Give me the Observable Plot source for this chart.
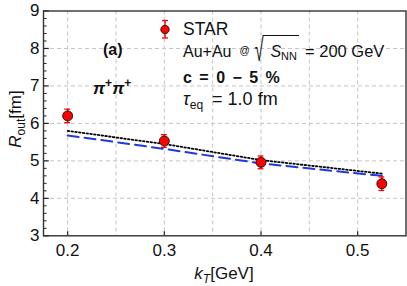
<!DOCTYPE html>
<html><head><meta charset="utf-8">
<script src="https://cdn.jsdelivr.net/npm/d3@7"></script>
<script src="https://cdn.jsdelivr.net/npm/@observablehq/plot@0.6"></script>
<style>body{margin:0;background:#fff} svg{display:block} text.rich{white-space:pre}</style>
</head><body><div id="chart"></div>
<script>
// ---- data ----
const kT = [0.2, 0.3, 0.4, 0.525];
const starR = [6.2, 5.53, 4.96, 4.39];
const starErr = [0.18, 0.17, 0.17, 0.18];
const dottedR = [5.80, 5.45, 5.02, 4.66];
const dashedR = [5.68, 5.32, 4.93, 4.60];
const xTicks = [0.2, 0.3, 0.4, 0.5];
const xGrid = [0.2, 0.25, 0.3, 0.35, 0.4, 0.45, 0.5];
const yTicks = [3, 4, 5, 6, 7, 8, 9];
const yGrid = [4, 5, 6, 7, 8];
const yMinor = [3.2,3.4,3.6,3.8,4.2,4.4,4.6,4.8,5.2,5.4,5.6,5.8,6.2,6.4,6.6,6.8,7.2,7.4,7.6,7.8,8.2,8.4,8.6,8.8];

const FONT = "'Liberation Sans', Arial, sans-serif";
const star = kT.map((k, i) => ({k, r: starR[i], lo: starR[i] - starErr[i], hi: starR[i] + starErr[i]}));
const dotted = kT.map((k, i) => ({k, r: dottedR[i]}));
const dashed = kT.map((k, i) => ({k, r: dashedR[i]}));
const X0 = 0.175, X1 = 0.55;

const plot = Plot.plot({
  width: 407, height: 286,
  marginLeft: 43, marginRight: 1.5, marginTop: 10.5, marginBottom: 50.7,
  style: {fontFamily: FONT, fontSize: "17px", color: "#111", background: "#fff"},
  x: {domain: [X0, X1]},
  y: {domain: [3, 9]},
  marks: [
    Plot.gridX(xGrid, {stroke: "#c4c4c4", strokeOpacity: 1, strokeDasharray: "4,3"}),
    Plot.gridY(yGrid, {stroke: "#c4c4c4", strokeOpacity: 1, strokeDasharray: "4,3"}),
    Plot.axisX(xTicks, {tickSize: 0, tickPadding: 8, tickFormat: d => d.toFixed(1), label: null}),
    Plot.axisY(yTicks, {tickSize: 0, tickPadding: 4, label: null}),
    Plot.ruleX(xTicks, {x: d => d, y1: 3, y2: 3.11, stroke: "#222", strokeWidth: 1.2}),
    Plot.ruleY(yTicks, {y: d => d, x1: X0, x2: X0 + 0.006, stroke: "#222", strokeWidth: 1.2}),
    Plot.ruleY(yMinor, {y: d => d, x1: X0, x2: X0 + 0.0037, stroke: "#222", strokeWidth: 1}),
    Plot.line(dashed, {x: "k", y: "r", stroke: "#2038e0", strokeWidth: 2, strokeDasharray: "11,6"}),
    Plot.line(dotted, {x: "k", y: "r", stroke: "#000", strokeWidth: 1.8, strokeDasharray: "1.6,2.2"}),
    Plot.ruleX(star, {x: "k", y1: "lo", y2: "hi", stroke: "#f00", strokeWidth: 1.5}),
    Plot.ruleY(star, {y: "lo", x1: d => d.k - 0.003, x2: d => d.k + 0.003, stroke: "#f00", strokeWidth: 1.3}),
    Plot.ruleY(star, {y: "hi", x1: d => d.k - 0.003, x2: d => d.k + 0.003, stroke: "#f00", strokeWidth: 1.3}),
    Plot.dot(star, {x: "k", y: "r", r: 5, fill: "#f00", stroke: "#111", strokeWidth: 0.9}),
    Plot.frame({stroke: "#333", strokeWidth: 1.4})
  ]
});
document.getElementById("chart").append(plot);

const svg = d3.select(plot);

// legend marker (error bar + dot)
const lg = svg.append("g");
lg.append("line").attr("x1", 165).attr("x2", 165).attr("y1", 20.5).attr("y2", 38).attr("stroke", "#f00").attr("stroke-width", 1.5);
lg.append("line").attr("x1", 162).attr("x2", 168).attr("y1", 20.5).attr("y2", 20.5).attr("stroke", "#f00").attr("stroke-width", 1.3);
lg.append("line").attr("x1", 162).attr("x2", 168).attr("y1", 38).attr("y2", 38).attr("stroke", "#f00").attr("stroke-width", 1.3);
lg.append("circle").attr("cx", 165).attr("cy", 29.5).attr("r", 4.2).attr("fill", "#f00").attr("stroke", "#111").attr("stroke-width", 0.9);

// rich text helper
function rich(x, y, segs, opts = {}) {
  const outer = svg.append("g").attr("transform", `translate(${x},${y})` + (opts.rotate ? " rotate(-90)" : ""));
  const g = outer.append("g");
  let cx = 0;
  const items = [];
  for (const s of segs) {
    cx += s.pre || 0;
    const t = g.append("text").attr("class", "rich")
      .attr("fill", "#111")
      .attr("text-anchor", "start")
      .style("font-family", s.family || FONT)
      .style("font-size", (s.size || 16) + "px")
      .style("font-style", s.italic ? "italic" : "normal")
      .style("font-weight", s.bold ? "bold" : "normal")
      .text(s.t);
    if (s.ws) t.style("word-spacing", s.ws + "px");
    if (s.sy) t.attr("transform", `translate(${cx},${s.ty || 0}) scale(1,${s.sy})`);
    else t.attr("x", cx).attr("y", s.dy || 0);
    const w = t.node().getComputedTextLength();
    items.push({x: cx, w});
    cx += w;
  }
  if (opts.anchor === "middle") g.attr("transform", `translate(${-cx / 2},0)`);
  return {items, width: cx};
}

// axis titles
rich(224, 279, [
  {t: "k", italic: true, size: 17},
  {t: "T", italic: true, size: 12, dy: 4},
  {t: "[GeV]", size: 17}
], {anchor: "middle"});
rich(21, 119, [
  {t: "R", italic: true, size: 17},
  {t: "out", size: 12, dy: 4},
  {t: "[fm]", size: 17}
], {rotate: true, anchor: "middle"});

// legend texts
rich(183, 35, [{t: "STAR", size: 17.5}]);
const l2 = rich(183, 56.7, [
  {t: "Au+Au", size: 16},
  {t: "@", size: 10, pre: 8, dy: -2.5},
  {t: "\u221A", size: 16, pre: 5, sy: 2.0, ty: 4},
  {t: "S", italic: true, size: 16, pre: 7},
  {t: "NN", size: 11, dy: 3},
  {t: "= 200 GeV", size: 16.5, pre: 8}
]);
// overline of the radical
{
  const r = l2.items[2], nn = l2.items[4];
  svg.append("line").attr("x1", 183 + r.x + r.w - 0.8).attr("x2", 183 + nn.x + nn.w + 2)
    .attr("y1", 35.5).attr("y2", 35.5).attr("stroke", "#111").attr("stroke-width", 1);
}
rich(183, 83, [{t: "c = 0 \u2212 5 %", size: 16, bold: true, ws: 3}]);
rich(183, 105, [
  {t: "\u03C4", italic: true, size: 18},
  {t: "eq", size: 12, dy: 4},
  {t: "= 1.0 fm", size: 18, pre: 9}
]);
rich(103, 55, [{t: "(a)", size: 16, bold: true}]);
rich(93, 94, [
  {t: "\u03C0", italic: true, bold: true, size: 17},
  {t: "+", bold: true, size: 12, dy: -7},
  {t: "\u03C0", italic: true, bold: true, size: 17},
  {t: "+", bold: true, size: 12, dy: -7}
]);
</script>
</body></html>
